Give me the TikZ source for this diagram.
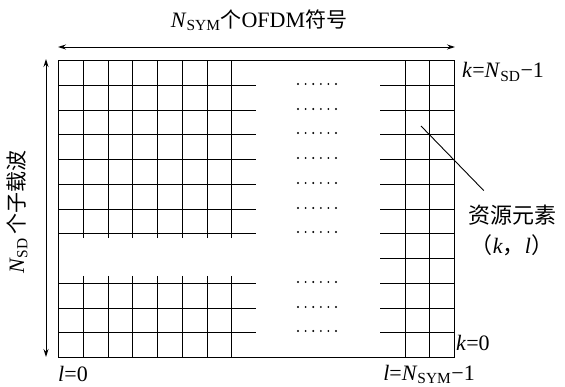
\documentclass[tikz,border=0pt]{standalone}
\usepackage{fontspec}
\setmainfont{Liberation Serif}
\newfontfamily\cjk{Noto Sans CJK SC}
\usetikzlibrary{arrows.meta}

\begin{document}
\begin{tikzpicture}[x=1pt,y=-1pt]
    \tikzset{
        gridline/.style={line width=1.4pt},
        dimarrow/.style={{Stealth[length=8pt,width=5pt]}-{Stealth[length=8pt,width=5pt]}, line width=0.9pt},
        lbl/.style={font=\fontsize{22}{24}\selectfont, inner sep=0pt},
        cjklbl/.style={font=\fontsize{22}{24}\cjk, inner sep=0pt}
    }
    \useasboundingbox (0,0) rectangle (565,387);

    % resource grid
    \draw[gridline] (58.5,60.5) rectangle (454.5,357.5);
    \foreach \j in {1,...,7}{
        \draw[gridline] ({round(58+24.75*\j)+0.5},60.5) -- ({round(58+24.75*\j)+0.5},238);
        \draw[gridline] ({round(58+24.75*\j)+0.5},276) -- ({round(58+24.75*\j)+0.5},357.5);
    }
    \foreach \i in {1,...,7,9,10,11}{
        \draw[gridline] (58.5,{round(60+24.75*\i)+0.5}) -- (256,{round(60+24.75*\i)+0.5});
    }
    \foreach \j in {14,15}{
        \draw[gridline] ({round(58+24.75*\j)+0.5},60.5) -- ({round(58+24.75*\j)+0.5},357.5);
    }
    \foreach \i in {1,...,11}{
        \draw[gridline] (380,{round(60+24.75*\i)+0.5}) -- (454.5,{round(60+24.75*\i)+0.5});
    }
    % dots
    \foreach \i in {1,...,7,9,10,11}{
        \foreach \d in {0,...,5}{
            \fill ({298+7.6*\d},{round(60+24.75*\i)-1}) circle (1.05pt);
        }
    }

    % dimension arrows
    \coordinate (symL) at (58,47);
    \coordinate (symR) at (455,47);
    \coordinate (sdT) at (46,59);
    \coordinate (sdB) at (46,357);
    \draw[dimarrow] (symL) -- (symR);
    \draw[dimarrow] (sdT) -- (sdB);

    % labels
    \node[lbl] (nsym) at (259,20) {\textit{N}\textsubscript{SYM}{\cjk\fontsize{21}{24}\selectfont 个}OFDM{\cjk\fontsize{21}{24}\selectfont 符号}};
    \node[lbl, rotate=90] (nsd) at (17,212) {\textit{N}\textsubscript{SD}\,{\cjk\fontsize{21}{24}\selectfont 个子载波}};
    \node[lbl, anchor=west] (ktop) at (462,72) {\textit{k}=\textit{N}\textsubscript{SD}−1};
    \node[lbl, anchor=west] (kzero) at (456,343) {\textit{k}=0};
    \node[lbl] (lzero) at (73,374) {\textit{l}=0};
    \node[lbl] (lmax) at (429,374) {\textit{l}=\textit{N}\textsubscript{SYM}−1};
    \node[cjklbl] (res) at (512,215) {资源元素};
    \node[lbl] (kl) at (512,245) {{\cjk （}\textit{k}{\cjk ，}\textit{l}{\cjk ）}};

    \coordinate (re) at (421,126);
    \draw[line width=0.9pt] (re) -- ([xshift=16pt,yshift=14pt]res.north west);
\end{tikzpicture}
\end{document}
